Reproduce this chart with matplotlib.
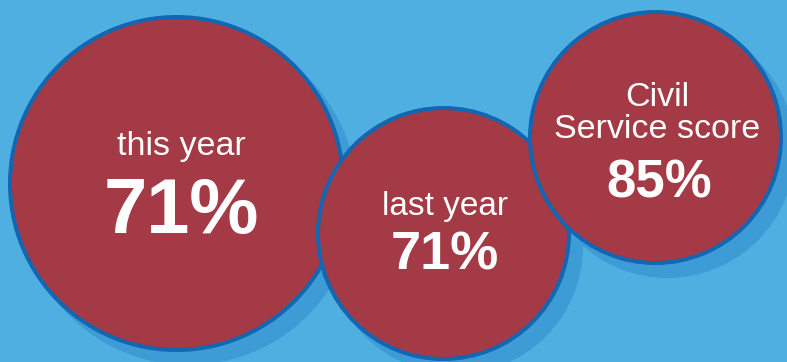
import matplotlib.pyplot as plt
from matplotlib.patches import Circle

# Survey scores shown in the three bubbles
labels = ["this year", "last year", "Civil\nService score"]
values = [71, 71, 85]

# Bubble layout in pixel coordinates (x, y from top-left), outer radius
centers = [(176.5, 183.5), (443.5, 233.5), (655.5, 137.5)]
radii = [168.5, 127.5, 127.5]
text_x_shift = [5, 1, 2]
label_sizes = [24.5, 24, 24.5]
value_sizes = [56, 39, 38]
label_baselines = [155, 215, 138]
value_baselines = [233, 270, 197]

BG = "#50afe1"
FILL = "#a33a45"
EDGE = "#1366b2"
SHADOW = "#3d9bd5"
EDGE_PX = 4
SHADOW_OFFSET = (12, 13)

W, H = 787, 362
fig = plt.figure(figsize=(W / 100, H / 100), dpi=100)
fig.patch.set_facecolor(BG)
ax = fig.add_axes([0, 0, 1, 1])
ax.set_xlim(0, W)
ax.set_ylim(H, 0)
ax.set_aspect("equal")
ax.axis("off")

# drop shadows go underneath every bubble
for (cx, cy), r in zip(centers, radii):
    ax.add_patch(Circle((cx + SHADOW_OFFSET[0], cy + SHADOW_OFFSET[1]), r,
                        facecolor=SHADOW, edgecolor="none", zorder=1))

font = ["Liberation Sans", "DejaVu Sans"]
for i, ((cx, cy), r) in enumerate(zip(centers, radii)):
    z = 2 + i * 2
    tx = cx + text_x_shift[i]
    ax.add_patch(Circle((cx, cy), r - EDGE_PX / 2, facecolor=FILL, edgecolor=EDGE,
                        linewidth=EDGE_PX * 72 / 100, zorder=z))
    ax.text(tx, label_baselines[i], labels[i], ha="center", va="baseline",
            color="white", fontsize=label_sizes[i], family=font,
            linespacing=1.05, zorder=z + 1)
    ax.text(tx + (2 if i == 2 else 0), value_baselines[i], f"{values[i]}%",
            ha="center", va="baseline", color="white", fontsize=value_sizes[i],
            fontweight="bold", family=font, zorder=z + 1)

fig.savefig("out.png", dpi=100, facecolor=BG)
